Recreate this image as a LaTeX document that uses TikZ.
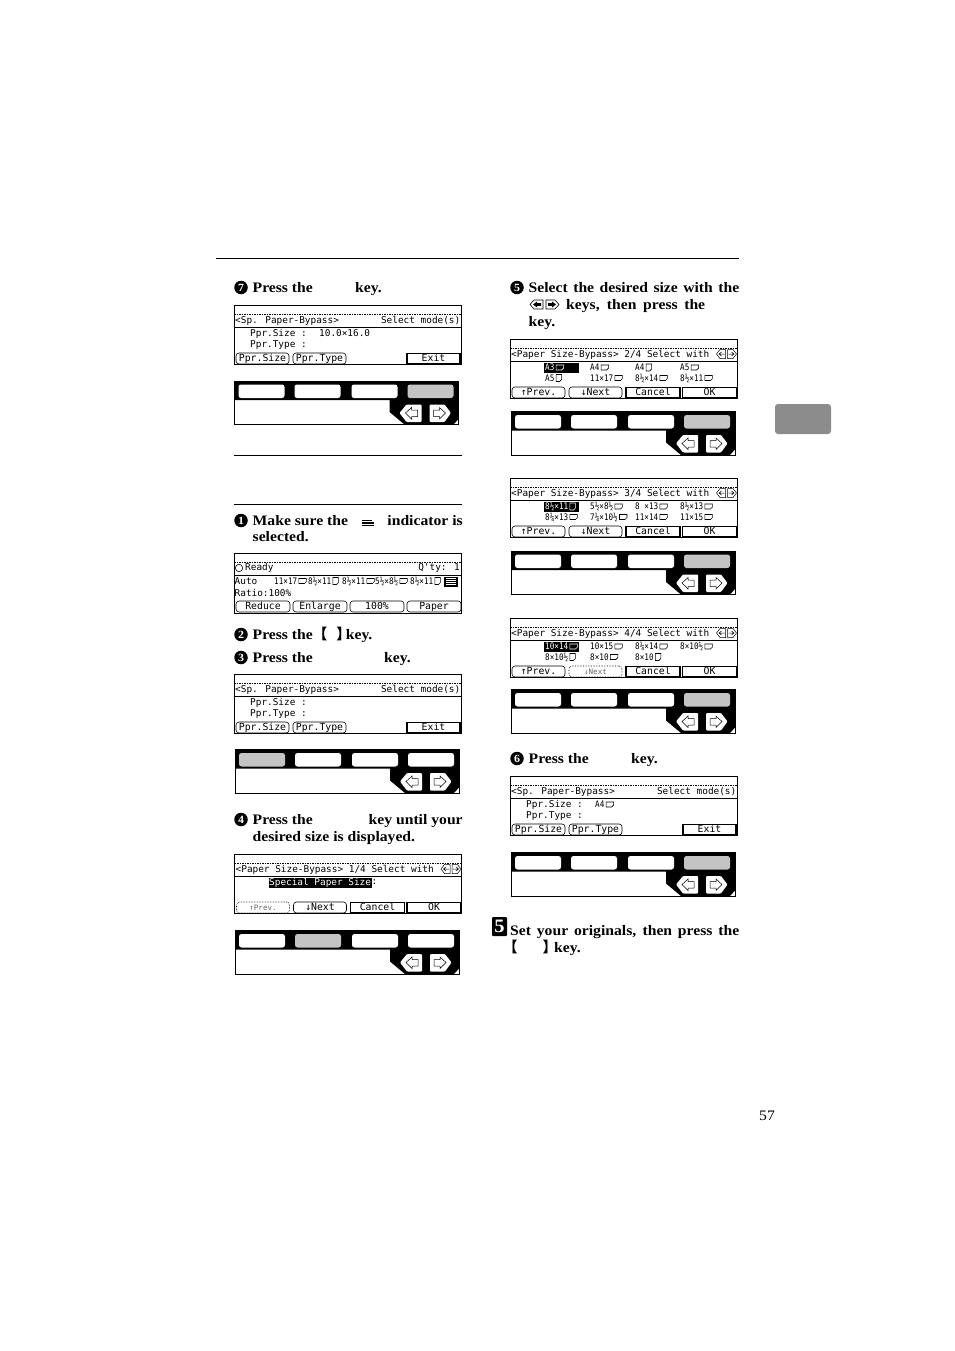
\documentclass[tikz,border=0pt]{standalone}
\usepackage{fontspec}
\newfontfamily\lcdfont{DejaVu Sans Mono}
\newfontfamily\lcdsmall{DejaVu Sans Mono}[FakeStretch = 0.85]
\newfontfamily\bookfont{Liberation Serif}[FakeStretch = 1.08]
\newfontfamily\cjk{Noto Sans CJK JP}
\usepackage{tikz}
\usetikzlibrary{calc, shapes}
\definecolor{mygray1}{RGB}{196, 196, 196}
\definecolor{mygray2}{RGB}{140, 140, 140}
\tikzset{
  lcd/.style = {font = \lcdfont\fontsize{9.4}{10}\selectfont, inner sep = 0pt, anchor = west},
  lcdsize/.style = {font = \lcdsmall\fontsize{9}{9}\selectfont, inner sep = 0pt, anchor = west},
  softkey/.style = {draw, rounded corners = 3pt, line width = 0.6pt, minimum height = 11pt, inner sep = 0pt,
    text height = 6.5pt, text depth = 1pt, font = \lcdfont\fontsize{9.8}{10}\selectfont},
  softoff/.style = {softkey, densely dotted, font = \lcdfont\fontsize{7.5}{9}\selectfont, text = black!60},
  hardkey/.style = {draw, line width = 1.3pt, minimum height = 10.5pt, inner sep = 0pt,
    text height = 6.5pt, text depth = 1pt, font = \lcdfont\fontsize{9.8}{10}\selectfont},
  stepnum/.style = {circle, fill = black, text = white, minimum size = 13.5pt, inner sep = 0pt,
    font = \bookfont\bfseries\fontsize{11}{11}\selectfont},
  steptext/.style = {anchor = base west, inner sep = 0pt, font = \bookfont\bfseries\fontsize{14.5}{15}\selectfont},
  paperl/.pic = {\draw[line width = 0.6pt] (0,-2.5) -- (7.5,-2.5) -- (7.5,0.5) -- (5.5,2.5) -- (0,2.5) -- cycle;},
  paperp/.pic = {\draw[line width = 0.6pt] (0,-3.5) -- (5.5,-3.5) -- (5.5,1.5) -- (3.5,3.5) -- (0,3.5) -- cycle;},
  titlearrows/.pic = {
    \draw[line width = 0.5pt] (0,4.5) -- (3.5,0) -- (9,0) -- (9,9) -- (3.5,9) -- cycle;
    \draw[line width = 0.5pt] (11,0) -- (16.5,0) -- (20,4.5) -- (16.5,9) -- (11,9) -- cycle;
    \draw[line width = 0.5pt] (5,2.5) -- (2.5,4.5) -- (5,6.5) (2.5,4.5) -- (8,4.5);
    \draw[line width = 0.5pt] (15,2.5) -- (17.5,4.5) -- (15,6.5) (17.5,4.5) -- (12,4.5);},
  steparrows/.pic = {
    \draw[line width = 0.6pt] (0,4.5) -- (4,0) -- (13,0) -- (13,9) -- (4,9) -- cycle;
    \draw[line width = 0.6pt] (16,0) -- (25,0) -- (29,4.5) -- (25,9) -- (16,9) -- cycle;
    \fill (3,4.5) -- (7,1.5) -- (7,3.2) -- (11,3.2) -- (11,5.8) -- (7,5.8) -- (7,7.5) -- cycle;
    \fill (26,4.5) -- (22,1.5) -- (22,3.2) -- (18,3.2) -- (18,5.8) -- (22,5.8) -- (22,7.5) -- cycle;}
}
% item with its paper sign: name, x, y, text, l or p
\newcommand{\pitem}[6][black]{
  \node[lcdsize, text = #1] (#2) at (#3,#4) {#5};
  \pic[color = #1] at ([xshift = 1.5pt]#2.east) {paper#6};
}
\newcommand{\lcdframe}{
  \draw[line width = 0.7pt] (0,0) rectangle (227,59);
  \draw[dash pattern = on 1.5pt off 1pt, line width = 0.5pt] (0,8.5) -- (227,8.5);
  \draw[line width = 0.7pt] (0,21.5) -- (227,21.5);
}
\newcommand{\modescreen}{
  \lcdframe
  \node[lcd] (title) at (1,15) {<Sp. Paper-Bypass>};
  \node[lcd, anchor = east] (mode) at (226.5,15) {Select mode(s)};
  \node[lcd] (size) at (16,28) {Ppr.Size :};
  \node[lcd] (type) at (16,40) {Ppr.Type :};
  \node[softkey, minimum width = 53pt] (ksize) at (28.5,53) {Ppr.Size};
  \node[softkey, minimum width = 53pt] (ktype) at (85.5,53) {Ppr.Type};
  \node[hardkey, minimum width = 53pt] (exit) at (199.5,53) {Exit};
}
\newcommand{\selectscreen}[1]{
  \lcdframe
  \node[lcd] (title) at (1,15) {<Paper Size-Bypass> #1 Select with};
  \pic at (206.5,10) {titlearrows};
}
\newcommand{\prevnext}[2]{
  \node[#1, minimum width = 53pt] (kprev) at (28.5,53) {↑Prev.};
  \node[#2, minimum width = 53pt] (knext) at (85.5,53) {↓Next};
  \node[hardkey, minimum width = 54pt] (kcancel) at (143,53) {Cancel};
  \node[hardkey, minimum width = 54pt] (kok) at (199.5,53) {OK};
}
\newcommand{\keypad}[1]{
  \draw[line width = 0.7pt] (0,0) rectangle (224,43.5);
  \fill (0,0) -- (224,0) -- (224,38) -- (219,43.5) -- (170,43.5) -- (155,31) -- (155,19) -- (0,19) -- cycle;
  \foreach \k/\x in {1/4, 2/60, 3/117, 4/173} {
    \ifnum\k=#1 \def\keycol{mygray1}\else \def\keycol{white}\fi
    \fill[\keycol, rounded corners = 2.5pt] (\x,3.5) rectangle (\x+46,17);
  }
  \fill[white, rounded corners = 1pt] (165,32) -- (172,23.5) -- (187,23.5) -- (187,41) -- (172,41) -- cycle;
  \fill[white, rounded corners = 1pt] (195,23.5) -- (210,23.5) -- (216.5,32) -- (210,41) -- (195,41) -- cycle;
  \draw[line width = 0.5pt] (171,32) -- (177,26.5) -- (177,29) -- (183,29) -- (183,35.5) -- (177,35.5) -- (177,38) -- cycle;
  \draw[line width = 0.5pt] (211,32) -- (205,26.5) -- (205,29) -- (199,29) -- (199,35.5) -- (205,35.5) -- (205,38) -- cycle;
}

\begin{document}
\begin{tikzpicture}[x = 1pt, y = -1pt]
\useasboundingbox (0,0) rectangle (954,1351);

\draw[line width = 0.7pt] (216,258) -- (739,258);
\draw[line width = 0.7pt] (234,455.5) -- (462,455.5);
\draw[line width = 0.7pt] (234,504.5) -- (462,504.5);
\fill[mygray2, rounded corners = 3pt] (775,404) rectangle (831,434);
\node[inner sep = 0pt, font = \bookfont\fontsize{14.5}{14}\selectfont] (pagenum) at (767,1116) {57};

% left column
\node[stepnum] (n7) at (241,287.5) {7};
\node[steptext] (t7) at (252.5,292) {\hbox to 129pt{Press the\hfill key.}};
\begin{scope}[shift = {(234,305.5)}, name prefix = a-]
\modescreen
\node[lcd] (val) at (85,28) {10.0×16.0};
\end{scope}
\begin{scope}[shift = {(234.5,381)}, name prefix = ak-]
\keypad{4}
\end{scope}

\node[stepnum] (n1) at (241,520.5) {1};
\node[steptext] (t1) at (252.5,525) {\hbox to 210pt{Make sure the\hfill indicator is}};
\node[steptext] (t1b) at (252.5,541.5) {selected.};
\foreach \yy/\xx in {520.5/372, 523/374, 525.5/374} {
  \draw[line width = 1.2pt] (362,\yy) -- (\xx,\yy);
}

\begin{scope}[shift = {(234,553.5)}, name prefix = b-]
\draw[line width = 0.7pt] (0,0) rectangle (227,60);
\draw[dash pattern = on 1.5pt off 1pt, line width = 0.5pt] (0,8.5) -- (227,8.5);
\draw[line width = 0.7pt] (0,21.5) -- (227,21.5);
\draw[line width = 0.6pt] (5,14.5) circle (3.7pt);
\node[lcd] (ready) at (11,14.5) {Ready};
\node[lcd, anchor = east] (qty) at (226,14.5) {Q'ty:  1};
\node[lcd] (auto) at (0.5,27.5) {Auto};
\pitem{s1}{40}{27.5}{11×17}{l}
\pitem{s2}{74}{27.5}{8½×11}{p}
\pitem{s3}{108}{27.5}{8½×11}{l}
\pitem{s4}{141}{27.5}{5½×8½}{l}
\pitem{s5}{176}{27.5}{8½×11}{p}
\fill (210,23) rectangle (224,33);
\foreach \yy in {25, 27, 29, 31} {
  \draw[white, line width = 0.7pt] (212,\yy) -- (222,\yy);
}
\node[lcd] (ratio) at (0.5,39) {Ratio:100\%};
\node[softkey, minimum width = 54pt] (kreduce) at (29,53) {Reduce};
\node[softkey, minimum width = 54pt] (kenl) at (86,53) {Enlarge};
\node[softkey, minimum width = 54pt] (k100) at (143,53) {100\%};
\node[softkey, minimum width = 54pt] (kpaper) at (200,53) {Paper};
\end{scope}

\node[stepnum] (n2) at (241,634.5) {2};
\node[steptext] (t2) at (252.5,639) {Press the{\cjk 【}\hspace{9pt}{\cjk 】}\hspace{-5pt}key.};
\node[stepnum] (n3) at (241,657.5) {3};
\node[steptext] (t3) at (252.5,662) {\hbox to 158pt{Press the\hfill key.}};
\begin{scope}[shift = {(234,674.5)}, name prefix = c-]
\modescreen
\end{scope}
\begin{scope}[shift = {(235,749.5)}, name prefix = ck-]
\keypad{1}
\end{scope}

\node[stepnum] (n4) at (241,819.5) {4};
\node[steptext] (t4) at (252.5,824) {\hbox to 210pt{Press the\hfill key until your}};
\node[steptext] (t4b) at (252.5,841) {desired size is displayed.};
\begin{scope}[shift = {(234.5,854.5)}, name prefix = d-]
\selectscreen{1/4}
\fill (34,23) rectangle (137,33);
\node[lcd, text = white] (special) at (34.5,28) {Special Paper Size};
\node[lcd] (colon) at (137,28) {:};
\prevnext{softoff}{softkey}
\end{scope}
\begin{scope}[shift = {(235,930.5)}, name prefix = dk-]
\keypad{2}
\end{scope}

% right column
\node[stepnum] (n5) at (517,287.5) {5};
\node[steptext] (t5) at (528.5,292) {\hbox to 210.5pt{Select the desired size with the}};
\pic at (530,300) {steparrows};
\node[steptext] (t5b) at (566,309) {\hbox to 139pt{keys, then press the}};
\node[steptext] (t5c) at (528.5,326) {key.};

\begin{scope}[shift = {(510,339.5)}, name prefix = e-]
\selectscreen{2/4}
\fill (34,23) rectangle (69,33);
\pitem[white]{r1}{35}{28}{A3}{l}
\pitem{r2}{80}{28}{A4}{l}
\pitem{r3}{125}{28}{A4}{p}
\pitem{r4}{170}{28}{A5}{l}
\pitem{r5}{35}{38.5}{A5}{p}
\pitem{r6}{80}{38.5}{11×17}{l}
\pitem{r7}{125}{38.5}{8½×14}{l}
\pitem{r8}{170}{38.5}{8½×11}{l}
\prevnext{softkey}{softkey}
\end{scope}
\begin{scope}[shift = {(511,411.5)}, name prefix = ek-]
\keypad{4}
\end{scope}

\begin{scope}[shift = {(510,478.5)}, name prefix = f-]
\selectscreen{3/4}
\fill (34,23) rectangle (69,33);
\pitem[white]{r1}{35}{28}{8½×11}{p}
\pitem{r2}{80}{28}{5½×8½}{l}
\pitem{r3}{125}{28}{8 ×13}{l}
\pitem{r4}{170}{28}{8½×13}{l}
\pitem{r5}{35}{38.5}{8¼×13}{l}
\pitem{r6}{80}{38.5}{7¼×10½}{l}
\pitem{r7}{125}{38.5}{11×14}{l}
\pitem{r8}{170}{38.5}{11×15}{l}
\prevnext{softkey}{softkey}
\end{scope}
\begin{scope}[shift = {(511,551)}, name prefix = fk-]
\keypad{4}
\end{scope}

\begin{scope}[shift = {(510,618.5)}, name prefix = g-]
\selectscreen{4/4}
\fill (34,23) rectangle (69,33);
\pitem[white]{r1}{35}{28}{10×14}{l}
\pitem{r2}{80}{28}{10×15}{l}
\pitem{r3}{125}{28}{8¼×14}{l}
\pitem{r4}{170}{28}{8×10½}{l}
\pitem{r5}{35}{38.5}{8×10½}{p}
\pitem{r6}{80}{38.5}{8×10}{l}
\pitem{r7}{125}{38.5}{8×10}{p}
\prevnext{softkey}{softoff}
\end{scope}
\begin{scope}[shift = {(511,689.5)}, name prefix = gk-]
\keypad{4}
\end{scope}

\node[stepnum] (n6) at (517,758.5) {6};
\node[steptext] (t6) at (528.5,763) {\hbox to 129pt{Press the\hfill key.}};
\begin{scope}[shift = {(510,776.5)}, name prefix = h-]
\modescreen
\pitem{val}{85}{28}{A4}{l}
\end{scope}
\begin{scope}[shift = {(511,852.5)}, name prefix = hk-]
\keypad{4}
\end{scope}

\node[fill = black, text = white, rounded corners = 1pt, minimum width = 15pt, minimum height = 19pt, inner sep = 0pt,
  font = \bookfont\bfseries\fontsize{19}{19}\selectfont] (n55) at (499.5,926.5) {5};
\node[steptext] (t55) at (510,935) {\hbox to 229pt{Set your originals, then press the}};
\node[steptext] (t55b) at (510,952) {\hspace{-7pt}{\cjk 【}\hspace{25pt}{\cjk 】}\hspace{-3pt}key.};

\end{tikzpicture}
\end{document}
